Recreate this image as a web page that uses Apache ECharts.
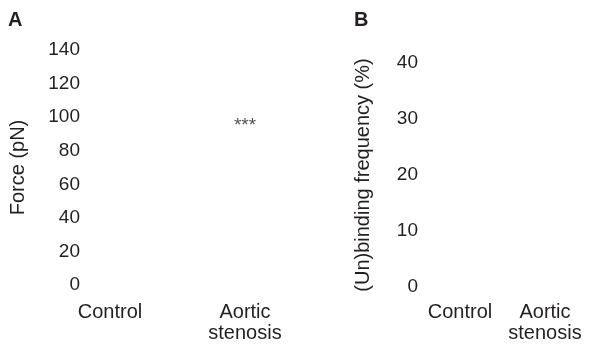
<!DOCTYPE html>
<html><head><meta charset="utf-8">
<script src="https://cdn.jsdelivr.net/npm/echarts@6/dist/echarts.min.js"></script>
<style>html,body{margin:0;padding:0;background:#fff}#c{width:589px;height:344px}</style>
</head><body><div id="c"></div>
<script>
const categories = ['Control', 'Aortic\nstenosis'];
const forceTicks = [0, 20, 40, 60, 80, 100, 120, 140];
const freqTicks = [0, 10, 20, 30, 40];
const significance = [['Aortic\nstenosis', 95, '***']];

const FONT = '"Liberation Sans", Arial, Helvetica, sans-serif';
const INK = '#231f20';
const chart = echarts.init(document.getElementById('c'), null, {renderer: 'canvas'});

function yAxis(grid, ticks, name, margin, gap) {
  return {
    type: 'value', gridIndex: grid,
    min: ticks[0], max: ticks[ticks.length - 1], interval: ticks[1] - ticks[0],
    name: name, nameLocation: 'middle', nameGap: gap,
    nameTextStyle: {fontFamily: FONT, fontSize: 20, color: INK},
    axisLine: {show: false}, axisTick: {show: false}, splitLine: {show: false},
    axisLabel: {fontFamily: FONT, fontSize: 19, color: INK, margin: margin}
  };
}
function xAxis(grid, margin) {
  return {
    type: 'category', gridIndex: grid, data: categories, boundaryGap: false,
    axisLine: {show: false}, axisTick: {show: false}, splitLine: {show: false},
    axisLabel: {fontFamily: FONT, fontSize: 20, color: INK, margin: margin, lineHeight: 21, interval: 0}
  };
}

chart.setOption({
  animation: false,
  graphic: [
    {type: 'text', left: 8, top: 10, style: {text: 'A', font: 'bold 20px ' + FONT, fill: INK}},
    {type: 'text', left: 354, top: 10, style: {text: 'B', font: 'bold 20px ' + FONT, fill: INK}}
  ],
  grid: [
    {left: 110, width: 135, top: 50, bottom: 59},
    {left: 460, width: 85, top: 63, bottom: 57}
  ],
  xAxis: [xAxis(0, 17), xAxis(1, 15)],
  yAxis: [
    yAxis(0, forceTicks, 'Force (pN)', 30, 82),
    yAxis(1, freqTicks, '(Un)binding frequency (%)', 42, 87)
  ],
  series: [{
    type: 'scatter', xAxisIndex: 0, yAxisIndex: 0,
    symbolSize: 1, itemStyle: {color: 'rgba(0,0,0,0)'},
    data: significance.map(d => ({value: [d[0], d[1]], label: {formatter: d[2]}})),
    label: {show: true, position: 'inside', fontFamily: FONT, fontSize: 19, color: INK}
  }]
});
</script></body></html>
